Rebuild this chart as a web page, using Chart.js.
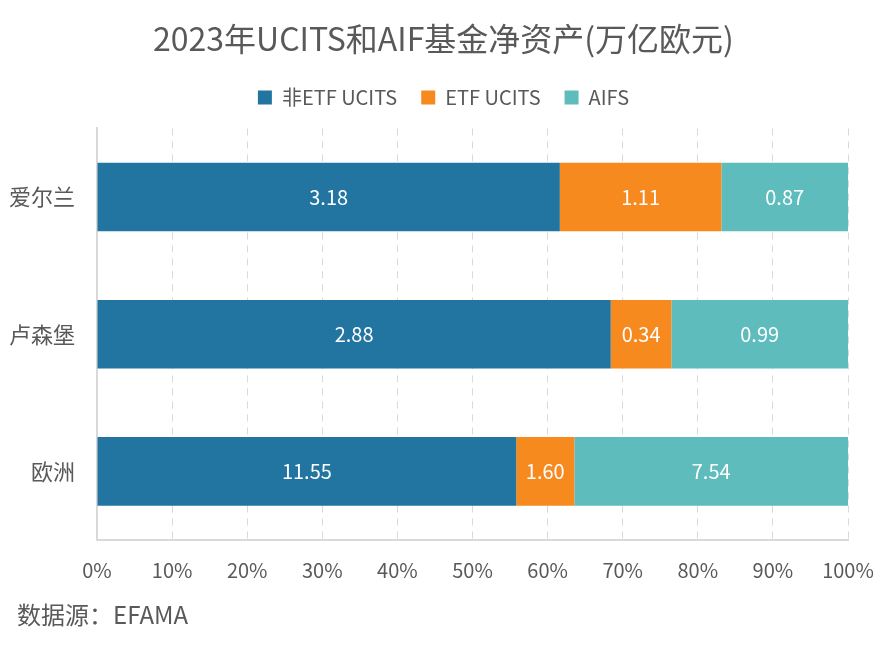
<!DOCTYPE html>
<html>
<head>
<meta charset="utf-8">
<script src="https://cdn.jsdelivr.net/npm/chart.js@4"></script>
<style>
  body { margin: 0; background: #fff; }
  #wrap { position: relative; width: 887px; height: 646px; }
  #source { position: absolute; left: 17px; top: 596px; font: 24px "Noto Sans CJK SC", sans-serif; color: #595959; }
</style>
</head>
<body>
<div id="wrap">
  <canvas id="grafico" width="887" height="646"></canvas>
  <div id="source">数据源：EFAMA</div>
</div>
<script>
// 2023年UCITS和AIF基金净资产 (万亿欧元)
const regioes = ['爱尔兰', '卢森堡', '欧洲'];
const naoEtfUcits = [3.18, 2.88, 11.55];
const etfUcits = [1.11, 0.34, 1.60];
const aifs = [0.87, 0.99, 7.54];

const fonte = '"Noto Sans CJK SC", sans-serif';
const cinza = '#595959';

const totais = regioes.map((_, i) => naoEtfUcits[i] + etfUcits[i] + aifs[i]);
const pct = arr => arr.map((v, i) => v / totais[i] * 100);

const series = [
  { label: '非ETF UCITS', raw: naoEtfUcits, color: '#2275a0' },
  { label: 'ETF UCITS', raw: etfUcits, color: '#f68a1e' },
  { label: 'AIFS', raw: aifs, color: '#5fbcbd' }
];

// rótulos dentro das barras
const rotulos = {
  id: 'rotulos',
  afterDatasetsDraw(chart) {
    const ctx = chart.ctx;
    ctx.save();
    ctx.font = '20px ' + fonte;
    ctx.fillStyle = '#ffffff';
    ctx.textAlign = 'center';
    ctx.textBaseline = 'middle';
    chart.data.datasets.forEach((ds, d) => {
      chart.getDatasetMeta(d).data.forEach((bar, i) => {
        const x = (bar.x + bar.base) / 2;
        ctx.fillText(ds.raw[i].toFixed(2), x, bar.y);
      });
    });
    ctx.restore();
  }
};

const ctx = document.getElementById('grafico').getContext('2d');
new Chart(ctx, {
  type: 'bar',
  data: {
    labels: regioes,
    datasets: series.map(s => ({
      label: s.label,
      raw: s.raw,
      data: pct(s.raw),
      backgroundColor: s.color,
      borderWidth: 0,
      barPercentage: 0.5,
      categoryPercentage: 1
    }))
  },
  options: {
    indexAxis: 'y',
    responsive: false,
    animation: false,
    layout: { padding: { left: 0, right: 0, top: 0, bottom: 66 } },
    plugins: {
      title: {
        display: true,
        text: '2023年UCITS和AIF基金净资产(万亿欧元)',
        color: cinza,
        font: { family: fonte, size: 32, weight: 'normal' },
        padding: { top: 20, bottom: 5 }
      },
      subtitle: {
        // espaço entre a legenda e o gráfico
        display: true,
        text: '',
        weight: 500,
        font: { size: 10, lineHeight: 1.1 },
        padding: 0
      },
      legend: {
        labels: {
          color: cinza,
          font: { family: fonte, size: 20 },
          boxWidth: 14,
          boxHeight: 14,
          padding: 24
        }
      },
      tooltip: { enabled: false }
    },
    scales: {
      x: {
        stacked: true,
        min: 0,
        max: 100,
        ticks: {
          stepSize: 10,
          color: cinza,
          font: { family: fonte, size: 20 },
          padding: 4,
          callback: v => v + '%'
        },
        grid: { color: '#d9d9d9', lineWidth: 1, drawTicks: true, tickLength: 14, tickColor: 'rgba(0,0,0,0)' },
        border: { display: true, color: '#d9d9d9', width: 2, dash: [7, 6] },
        afterFit: s => { s.height = 40; }
      },
      y: {
        stacked: true,
        ticks: {
          color: cinza,
          font: { family: fonte, size: 22 },
          padding: 14
        },
        grid: { display: false },
        border: { display: true, color: '#d9d9d9', width: 2 },
        afterFit: s => { s.width = 97; }
      },
      // margem direita vazia
      margem: {
        axis: 'y',
        position: 'right',
        display: true,
        ticks: { display: false },
        grid: { display: false },
        border: { display: false },
        afterFit: s => { s.width = 39; }
      }
    }
  },
  plugins: [rotulos]
});
</script>
</body>
</html>
